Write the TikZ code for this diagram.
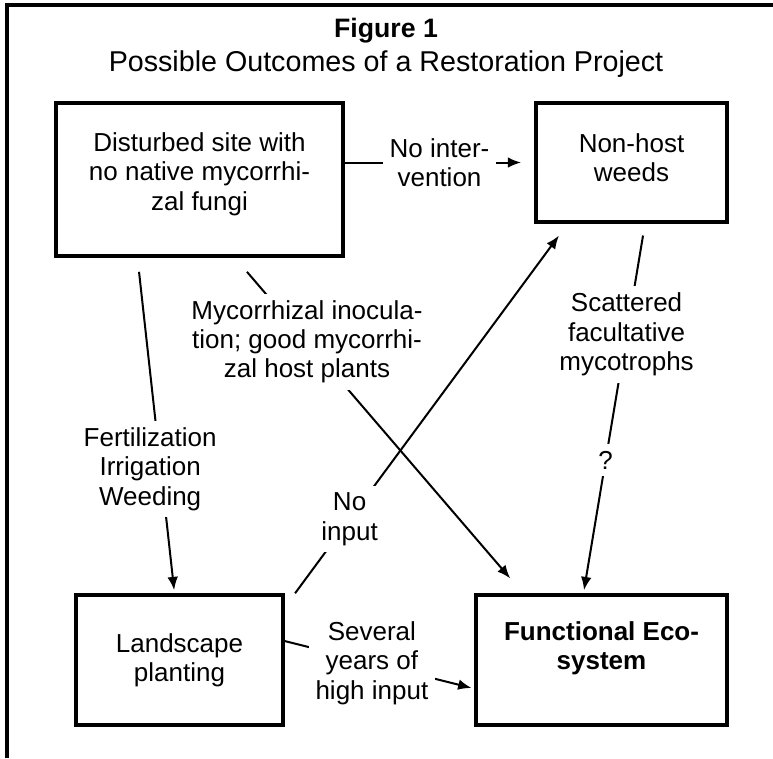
\documentclass[tikz,border=0pt]{standalone}
\usepackage{fontspec}
\setmainfont{Liberation Sans}
\usetikzlibrary{arrows.meta,calc}
\begin{document}
\begin{tikzpicture}[
    x=0.75pt, y=-0.75pt,
    every node/.style={font=\fontsize{19.5}{22}\selectfont, align=center},
    bold/.style={font=\fontsize{19.5}{22}\selectfont\bfseries},
    box/.style={draw, line width=2.6pt, inner sep=0pt},
    lbl/.style={fill=white, inner sep=5pt},
    link/.style={line width=1.5pt},
    arr/.style={link, -{Latex[length=10pt,width=8pt]}}
]
\useasboundingbox (0,0) rectangle (773,758);
\draw[line width=3pt] (7,758) -- (7,5) -- (773,5);

\node[font=\fontsize{20}{24}\selectfont\bfseries] (title) at (386,31) {Figure 1};
\node[font=\fontsize{21.5}{24}\selectfont] (subtitle) at (386,64) {Possible Outcomes of a Restoration Project};

\node[box, minimum width=215pt, minimum height=115pt, text depth=12pt] (site) at (199.5,179.5)
    {Disturbed site with\\no native mycorrhi-\\zal fungi};
\node[box, minimum width=143pt, minimum height=89pt, text depth=7.5pt] (weeds) at (631.5,162.5)
    {Non-host\\weeds};
\node[box, minimum width=155pt, minimum height=97.5pt] (planting) at (179.5,660)
    {Landscape\\planting};
\node[box, bold, minimum width=188pt, minimum height=97.5pt, text depth=22pt] (eco) at (601.5,660)
    {Functional Eco-\\system};

\draw[arr, shorten >=10pt] (site.east |- weeds.west) -- node[lbl] {No inter-\\vention} (weeds.west);
\draw[arr, shorten <=13.8pt, shorten >=14.7pt] ($(site.south)+(35.5,0)$) --
    node[lbl, pos=0.25] {Mycorrhizal inocula-\\tion; good mycorrhi-\\zal host plants} ($(eco.north)+(-78.5,0)$);
\draw[arr, shorten <=10.5pt, shorten >=2.3pt] ($(site.south)+(-62,0)$) --
    node[lbl, pos=0.63, xshift=-8pt] {Fertilization\\Irrigation\\Weeding} ($(planting.north)+(-5,0)$);
\draw[arr, shorten <=9.1pt, shorten >=2.3pt] ($(weeds.south)+(13.5,0)$) --
    node[lbl, pos=0.3] {Scattered\\facultative\\mycotrophs}
    node[lbl, pos=0.64] {?} ($(eco.north)+(-18,0)$);
\draw[arr, shorten >=11.2pt] ($(planting.north east)+(10.5,0)$) --
    node[lbl, pos=0.2] {No\\input} ($(weeds.south)+(-63.7,0)$);
\draw[arr, shorten >=2.3pt] ($(planting.east)+(0,-19)$) --
    node[lbl, pos=0.46] {Several\\years of\\high input} ($(eco.west)+(0,28.7)$);

\end{tikzpicture}
\end{document}
